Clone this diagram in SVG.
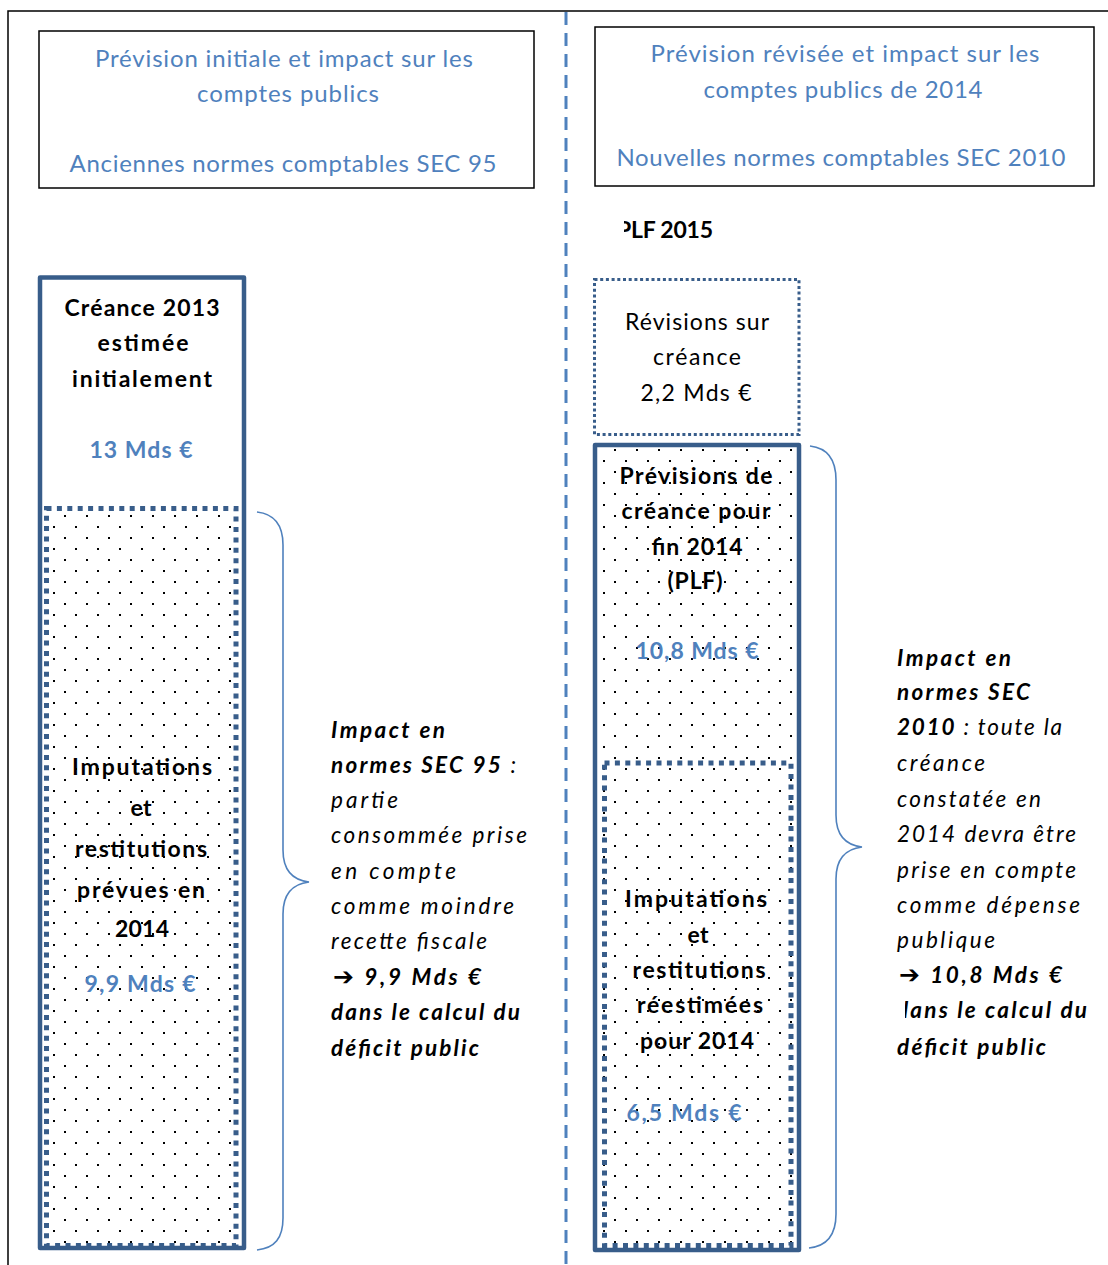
<svg xmlns="http://www.w3.org/2000/svg" width="1108" height="1265" viewBox="0 0 1108 1265">
<defs>
<pattern id="dots" patternUnits="userSpaceOnUse" x="0" y="0" width="22" height="22">
<rect x="9" y="20" width="2" height="2" fill="#000"/>
<rect x="20" y="9" width="2" height="2" fill="#000"/>
</pattern>
<clipPath id="clipPLF"><rect x="624" y="205" width="200" height="40"/></clipPath>
<clipPath id="clipDans"><rect x="905" y="992" width="203" height="36"/></clipPath>
</defs>
<style>
.hdr{font-family:Lato,"Open Sans",sans-serif;font-size:24px;font-weight:400;fill:#4f81bd;text-anchor:middle}
.b{font-family:Lato,"Open Sans",sans-serif;font-size:23px;font-weight:700;fill:#000;text-anchor:middle}
.val{fill:#4f81bd}
.n{font-family:Lato,"Open Sans",sans-serif;font-size:23px;font-weight:400;fill:#000;text-anchor:middle}
.it{font-family:Lato,"Open Sans",sans-serif;font-size:22.5px;font-style:italic;font-weight:400;fill:#000}
.bi{font-weight:700}
.arr{font-family:"DejaVu Sans",sans-serif;font-size:25px;font-style:normal;font-weight:700}
.frame{fill:none;stroke:#000;stroke-width:1.5}
.hbox{fill:#fff;stroke:#000;stroke-width:1.5}
.solid{fill:none;stroke:#385d8a;stroke-width:4.5;stroke-linejoin:round}
.dotted{fill:none;stroke:#385d8a;stroke-width:5;stroke-dasharray:5 5.4}
.dashedbox{fill:none;stroke:#385d8a;stroke-width:3;stroke-dasharray:3 2.7}
.divider{fill:none;stroke:#4f81bd;stroke-width:3;stroke-dasharray:13 8}
.brace{fill:none;stroke:#4f81bd;stroke-width:1.6}
</style>
<rect width="1108" height="1265" fill="#fff"/>
<g id="frame">
<path class="frame" d="M8,1265 L8,11 L1108,11"/>
<line class="divider" x1="566" y1="12" x2="566" y2="1265"/>
</g>
<g id="header-left">
<rect class="hbox" x="39" y="31" width="495" height="157"/>
<text class="hdr" x="284" y="67" textLength="378" lengthAdjust="spacing">Prévision initiale et impact sur les</text>
<text class="hdr" x="288" y="102" textLength="182" lengthAdjust="spacing">comptes publics</text>
<text class="hdr" x="283" y="172" textLength="427" lengthAdjust="spacing">Anciennes normes comptables SEC 95</text>
</g>
<g id="header-right">
<rect class="hbox" x="595" y="27" width="499" height="159"/>
<text class="hdr" x="845" y="62" textLength="389" lengthAdjust="spacing">Prévision révisée et impact sur  les</text>
<text class="hdr" x="843" y="98" textLength="279" lengthAdjust="spacing">comptes publics de 2014</text>
<text class="hdr" x="841" y="166" textLength="449" lengthAdjust="spacing">Nouvelles normes comptables SEC 2010</text>
</g>
<g id="plf-label">
<text class="b" x="617" y="238" style="text-anchor:start" clip-path="url(#clipPLF)" textLength="96" lengthAdjust="spacing">PLF 2015</text>
</g>
<g id="box-creance-2013">
<rect class="solid" x="40" y="277.5" width="204" height="970.5"/>
<text class="b" x="142" y="316" textLength="155" lengthAdjust="spacing">Créance 2013</text>
<text class="b" x="143" y="351" textLength="91" lengthAdjust="spacing">estimée</text>
<text class="b" x="142" y="387" textLength="140" lengthAdjust="spacing">initialement</text>
<text class="b val" x="141" y="458" textLength="103" lengthAdjust="spacing">13 Mds €</text>
</g>
<g id="box-imputations-2014">
<rect x="46.5" y="508.5" width="189.5" height="737" fill="url(#dots)"/>
<rect class="dotted" x="46.5" y="508.5" width="189.5" height="737"/>
<text class="b" x="142" y="775" textLength="140" lengthAdjust="spacing">Imputations</text>
<text class="b" x="141" y="816" textLength="21" lengthAdjust="spacing">et</text>
<text class="b" x="141" y="857" textLength="132" lengthAdjust="spacing">restitutions</text>
<text class="b" x="141" y="898" textLength="128" lengthAdjust="spacing">prévues en</text>
<text class="b" x="142" y="937" textLength="54" lengthAdjust="spacing">2014</text>
<text class="b val" x="140" y="992" textLength="111" lengthAdjust="spacing">9,9 Mds €</text>
</g>
<g id="box-revisions">
<rect class="dashedbox" x="594.5" y="279.5" width="204.5" height="155"/>
<text class="n" x="697" y="330" textLength="144" lengthAdjust="spacing">Révisions sur</text>
<text class="n" x="697" y="365" textLength="88" lengthAdjust="spacing">créance</text>
<text class="n" x="696" y="401" textLength="111" lengthAdjust="spacing">2,2 Mds €</text>
</g>
<g id="box-previsions">
<rect x="595" y="445" width="204" height="805" fill="url(#dots)"/>
<rect class="solid" x="595" y="445" width="204" height="805"/>
<text class="b" x="696" y="484" textLength="153" lengthAdjust="spacing">Prévisions de</text>
<text class="b" x="696" y="519" textLength="149" lengthAdjust="spacing">créance pour</text>
<text class="b" x="697" y="555" textLength="91" lengthAdjust="spacing">fin 2014</text>
<text class="b" x="695" y="589" textLength="55" lengthAdjust="spacing">(PLF)</text>
<text class="b val" x="697" y="659" textLength="123" lengthAdjust="spacing">10,8 Mds €</text>
</g>
<g id="box-imputations-reestimees">
<rect class="dotted" x="604.5" y="763" width="186.5" height="482.5"/>
<text class="b" x="696" y="907" textLength="142" lengthAdjust="spacing">Imputations</text>
<text class="b" x="698" y="943" textLength="21" lengthAdjust="spacing">et</text>
<text class="b" x="699" y="978" textLength="133" lengthAdjust="spacing">restitutions</text>
<text class="b" x="700" y="1013" textLength="126" lengthAdjust="spacing">réestimées</text>
<text class="b" x="697" y="1049" textLength="114" lengthAdjust="spacing">pour 2014</text>
<text class="b val" x="684" y="1121" textLength="115" lengthAdjust="spacing">6,5 Mds €</text>
</g>
<g id="connectors">
<path class="brace" d="M257,512 C275,514 283,525 283,545 L283,850 C283,870 292,880 309,882 C292,884 283,894 283,914 L283,1218 C283,1238 275,1248 257,1250"/>
<path class="brace" d="M810,446 C828,448 836,460 836,480 L836,815 C836,835 845,845 862,847 C845,849 836,859 836,879 L836,1214 C836,1234 828,1246 809,1248"/>
</g>
<g id="note-sec95">
<text class="it bi" x="331" y="738" textLength="114" lengthAdjust="spacing">Impact en</text>
<text class="it" x="331" y="773" textLength="185" lengthAdjust="spacing"><tspan class="bi">normes SEC 95</tspan>  :</text>
<text class="it" x="331" y="808" textLength="67" lengthAdjust="spacing">partie</text>
<text class="it" x="331" y="843" textLength="196" lengthAdjust="spacing">consommée prise</text>
<text class="it" x="331" y="879" textLength="125" lengthAdjust="spacing">en compte</text>
<text class="it" x="331" y="914" textLength="183" lengthAdjust="spacing">comme moindre</text>
<text class="it" x="331" y="949" textLength="156" lengthAdjust="spacing">recette fiscale</text>
<text class="it bi" x="333" y="985" textLength="148" lengthAdjust="spacing"><tspan class="arr">➔</tspan> 9,9 Mds €</text>
<text class="it bi" x="331" y="1020" textLength="189" lengthAdjust="spacing">dans le calcul du</text>
<text class="it bi" x="331" y="1056" textLength="148" lengthAdjust="spacing">déficit public</text>
</g>
<g id="note-sec2010">
<text class="it bi" x="897" y="666" textLength="114" lengthAdjust="spacing">Impact en</text>
<text class="it bi" x="897" y="700" textLength="133" lengthAdjust="spacing">normes SEC</text>
<text class="it" x="897" y="735" textLength="165" lengthAdjust="spacing"><tspan class="bi">2010</tspan> : toute la</text>
<text class="it" x="897" y="771" textLength="88" lengthAdjust="spacing">créance</text>
<text class="it" x="897" y="807" textLength="144" lengthAdjust="spacing">constatée en</text>
<text class="it" x="897" y="842" textLength="179" lengthAdjust="spacing">2014 devra être</text>
<text class="it" x="897" y="878" textLength="179" lengthAdjust="spacing">prise en compte</text>
<text class="it" x="897" y="913" textLength="183" lengthAdjust="spacing">comme dépense</text>
<text class="it" x="897" y="948" textLength="98" lengthAdjust="spacing">publique</text>
<text class="it bi" x="899" y="983" textLength="163" lengthAdjust="spacing"><tspan class="arr">➔</tspan> 10,8 Mds €</text>
<text class="it bi" x="896" y="1018" textLength="191" lengthAdjust="spacing" clip-path="url(#clipDans)">dans le calcul du</text>
<text class="it bi" x="897" y="1055" textLength="149" lengthAdjust="spacing">déficit public</text>
</g>
</svg>
